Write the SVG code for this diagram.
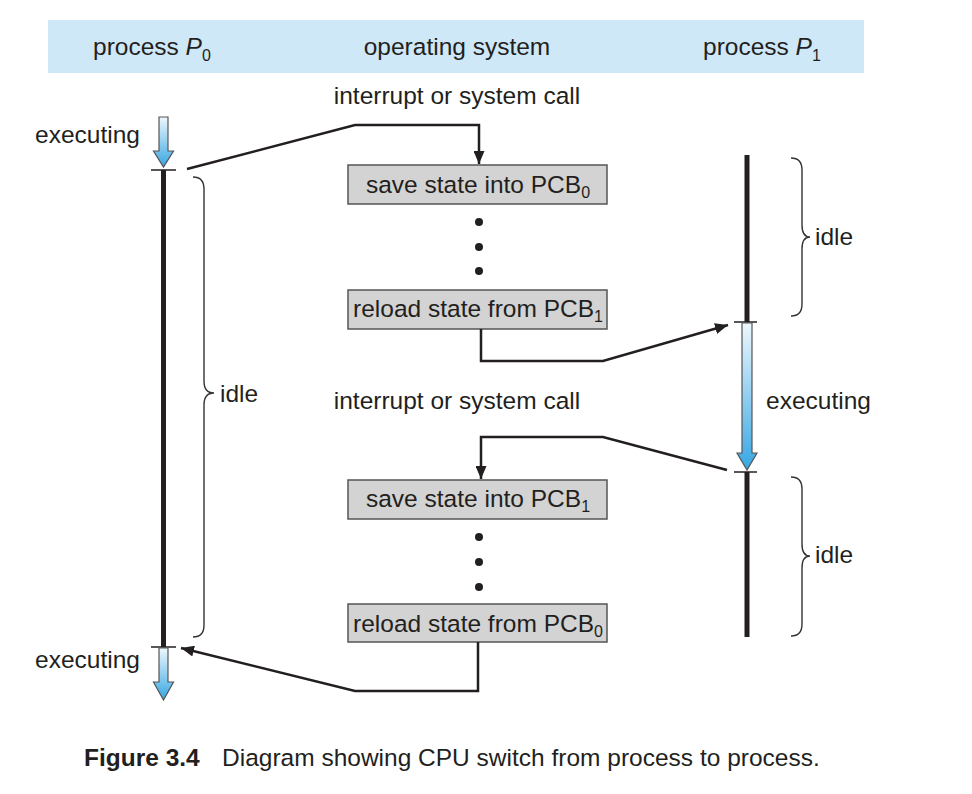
<svg xmlns="http://www.w3.org/2000/svg" width="972" height="794" viewBox="0 0 972 794">
<style>
text{font-family:"Liberation Sans",Arial,sans-serif;font-size:24.5px;fill:#231f20}
.sub{font-size:16px}
.box{fill:#d3d3d3;stroke:#555;stroke-width:1.5}
.conn{fill:none;stroke:#231f20;stroke-width:2.5}
.brace{fill:none;stroke:#333;stroke-width:1.4}
.tick{stroke:#231f20;stroke-width:1.5}
.bar{stroke:#231f20;stroke-width:5}
.arrow{stroke:#555;stroke-width:1.2}
.dot{fill:#231f20}
</style>
<defs>
<linearGradient id="g" x1="0" y1="0" x2="0" y2="1">
<stop offset="0" stop-color="#eef7fd"/>
<stop offset="1" stop-color="#36a6e2"/>
</linearGradient>
<marker id="ah" markerUnits="userSpaceOnUse" markerWidth="13" markerHeight="11" refX="13" refY="5.5" orient="auto">
<path d="M0,0 L13,5.5 L0,11 z" fill="#231f20"/>
</marker>
</defs>
<rect x="48" y="20" width="816" height="53" fill="#cfe8f8"/>
<g id="header">
<text x="93" y="55">process <tspan font-style="italic">P</tspan><tspan class="sub" dy="6">0</tspan></text>
<text x="457" y="55" text-anchor="middle">operating system</text>
<text x="703" y="55">process <tspan font-style="italic">P</tspan><tspan class="sub" dy="6">1</tspan></text>
</g>
<g id="p0">
<text x="35" y="143">executing</text>
<polygon class="arrow" fill="url(#g)" points="159,117 168,117 168,151 173.5,151 163.5,167 153.5,151 159,151"/>
<line class="tick" x1="151" y1="170" x2="176" y2="170"/>
<line class="bar" x1="163.5" y1="170" x2="163.5" y2="647"/>
<line class="tick" x1="151" y1="647" x2="176" y2="647"/>
<polygon class="arrow" fill="url(#g)" points="159,648 168,648 168,682 173.5,682 163.5,700 153.5,682 159,682"/>
<text x="35" y="668">executing</text>
<path class="brace" d="M193,177 Q204,177 204,189 L204,381 Q204,393 214,393 Q204,393 204,405 L204,625 Q204,637 193,637"/>
<text x="220" y="402">idle</text>
</g>
<g id="p1">
<line class="bar" x1="747" y1="155" x2="747" y2="322"/>
<line class="tick" x1="734" y1="322" x2="757" y2="322"/>
<polygon class="arrow" fill="url(#g)" points="742,323 752,323 752,453 757,453 747,470 737,453 742,453"/>
<line class="tick" x1="734" y1="472" x2="757" y2="472"/>
<line class="bar" x1="747" y1="472" x2="747" y2="637"/>
<path class="brace" d="M791,158 Q802,158 802,170 L802,225 Q802,237 810,237 Q802,237 802,249 L802,304 Q802,316 791,316"/>
<text x="815" y="245">idle</text>
<text x="766" y="409">executing</text>
<path class="brace" d="M791,477 Q802,477 802,489 L802,544 Q802,556 810,556 Q802,556 802,568 L802,624 Q802,636 791,636"/>
<text x="815" y="563">idle</text>
</g>
<g id="os">
<text x="457" y="104" text-anchor="middle">interrupt or system call</text>
<g id="save0"><rect class="box" x="348" y="165" width="259" height="39"/>
<text x="478" y="193" text-anchor="middle">save state into PCB<tspan class="sub" dy="5">0</tspan></text></g>
<circle class="dot" cx="479" cy="222" r="4"/><circle class="dot" cx="479" cy="247" r="4"/><circle class="dot" cx="479" cy="271" r="4"/>
<g id="reload1"><rect class="box" x="348" y="290" width="259" height="39"/>
<text x="478" y="317" text-anchor="middle">reload state from PCB<tspan class="sub" dy="5">1</tspan></text></g>
<text x="457" y="409" text-anchor="middle">interrupt or system call</text>
<g id="save1"><rect class="box" x="348" y="480" width="259" height="39"/>
<text x="478" y="507" text-anchor="middle">save state into PCB<tspan class="sub" dy="5">1</tspan></text></g>
<circle class="dot" cx="479" cy="537" r="4"/><circle class="dot" cx="479" cy="562" r="4"/><circle class="dot" cx="479" cy="587" r="4"/>
<g id="reload0"><rect class="box" x="348" y="604" width="259" height="38"/>
<text x="478" y="632" text-anchor="middle">reload state from PCB<tspan class="sub" dy="5">0</tspan></text></g>
</g>
<g id="connectors">
<path class="conn" marker-end="url(#ah)" d="M187,169 L355,125 L479,125 L479,164"/>
<path class="conn" marker-end="url(#ah)" d="M481,329 L481,361 L603,361 L728,325"/>
<path class="conn" marker-end="url(#ah)" d="M727,470 L603,437 L481,437 L481,479"/>
<path class="conn" marker-end="url(#ah)" d="M478,642 L478,691 L355,691 L181,648"/>
</g>
<g id="caption">
<text x="84" y="766" font-weight="bold">Figure 3.4</text>
<text x="222" y="766">Diagram showing CPU switch from process to process.</text>
</g>
</svg>
